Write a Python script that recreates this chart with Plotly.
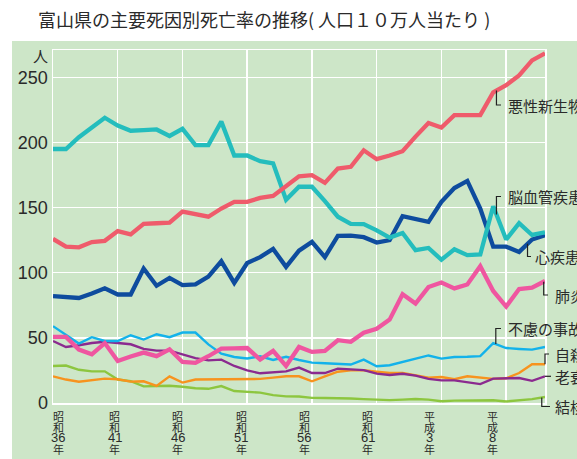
import numpy as np
import plotly.graph_objects as go

YEARS = list(range(1961, 2000))

cancer = [126, 120, 119.5, 123.5, 124.5, 132, 129.5, 137.5, 138, 138.5, 147, 145, 143, 149.3, 154.4, 154.4,
          157.5, 159, 166.5, 174, 174.9, 169, 180, 181.3, 194, 187.2, 190, 193.3, 204.5, 215, 211.5, 221,
          221, 221, 238.5, 244, 251.5, 263, 268.5]
stroke = [195, 195, 204, 211, 219, 213, 209, 209.5, 210, 205, 210.5, 198, 198, 216, 190, 190, 185.6, 184,
          156, 166, 166, 155, 143, 137.5, 137.3, 132.5, 127, 130.5, 117.3, 119, 110, 118, 113.5, 114, 151,
          125.5, 138, 129, 131]
heart = [82, 81.3, 80.6, 84, 88, 83.3, 83.3, 103.2, 90, 96, 90.5, 91, 97, 108.8, 92.2, 107.5, 112, 118.3,
         104.5, 117, 123.7, 112, 128.3, 128.5, 127.3, 123.2, 125, 143.4, 141, 139, 154.4, 165, 170.5, 149.3,
         120, 120, 116, 125.5, 128.8]
pneumonia = [50.7, 50.7, 41, 37.4, 46, 32.3, 35.7, 38.7, 36, 41.2, 31.5, 30.8, 35.9, 41.8, 42, 42.2, 33.3,
             40, 28.4, 43, 39.2, 40, 48.2, 47, 54, 57, 64, 83.5, 76.3, 89, 92.5, 88, 91, 105, 86, 74, 87.5,
             88.5, 93.7]
accident = [59, 52, 45.6, 50.5, 47.6, 47.6, 52, 48.7, 52.8, 50.5, 54.1, 54.1, 45, 37.9, 35.3, 34.2, 35.9,
            33, 35.5, 33, 31, 30.5, 30, 29.5, 33.3, 28.2, 29, 31.5, 34.5, 36.5, 34.1, 35.3, 35.5, 36, 46,
            42.2, 41.5, 41, 43]
senility = [47.6, 43, 44.3, 46.1, 47, 46.1, 45.1, 41.5, 40.2, 40.2, 37.2, 34.5, 32.7, 33.3, 28.4, 25, 22.8,
            23.8, 24.3, 27.2, 23, 23, 26.4, 25.8, 25.2, 22.5, 21.5, 22.5, 21, 18.5, 17.4, 17.4, 16, 14.5,
            18.7, 19, 19.2, 17, 20.5]
suicide = [20.5, 18, 16.3, 17.4, 18.7, 18.2, 16.4, 16.7, 13.1, 20.5, 15.7, 18, 18, 18, 18, 18, 18.5, 19.5,
           20.5, 20.5, 16.7, 20.5, 24, 25.1, 25.1, 24, 23, 23, 21, 19.5, 20, 18.2, 20.5, 19.5, 18.5, 19, 23,
           29.7, 29.7]
tuberculosis = [28.4, 28.8, 25.5, 24.3, 24.3, 18, 16.7, 12.8, 13, 13.3, 12.5, 11.3, 10.9, 13, 9.2, 8.7, 8,
                6, 5.1, 5, 3.9, 3.8, 3.8, 3.5, 3, 2.6, 2.2, 2.6, 3.1, 2.6, 1.3, 1.8, 2, 2.1, 2.1, 1.2, 2, 3,
                4.6]

NAMES = ["悪性新生物", "脳血管疾患", "心疾患", "肺炎", "不慮の事故", "自殺", "老衰", "結核"]
TICK_YEARS = [1961, 1966, 1971, 1976, 1981, 1986, 1991, 1996]
TICK_ERA = ["昭和", "昭和", "昭和", "昭和", "昭和", "昭和", "平成", "平成"]
TICK_NUM = ["36", "41", "46", "51", "56", "61", "3", "8"]
Y_TICKS = [0, 50, 100, 150, 200, 250]

BG = "#cde6c8"
TXT = "#2a2a2a"
JP = "Noto Sans CJK JP, sans-serif"
NUM = "Liberation Sans, Arial, sans-serif"

# figure geometry (px)
W, H = 577, 459
L, R, T, B = 53, 32, 50, 56
PW, PH = W - L - R, H - T - B
X0, X1 = 1961, 1999
Y0, Y1 = 0, 271

def px_x(px):
    return (px - L) / PW

def px_y(py):
    return (H - B - py) / PH

def data_px_y(v):
    return H - B - (v - Y0) / (Y1 - Y0) * PH

def data_px_x(yr):
    return L + (yr - X0) / (X1 - X0) * PW

series = [
    (tuberculosis, "#8dc63f", 2.4, NAMES[7]),
    (suicide, "#f7931e", 2.4, NAMES[5]),
    (senility, "#8b2a8f", 2.4, NAMES[6]),
    (accident, "#13b2ea", 2.4, NAMES[4]),
    (pneumonia, "#ef56a0", 4.3, NAMES[3]),
    (heart, "#0e4c9e", 4.3, NAMES[2]),
    (stroke, "#24bdbd", 4.3, NAMES[1]),
    (cancer, "#ef5b6b", 4.3, NAMES[0]),
]

fig = go.Figure()
for vals, col, w, name in series:
    fig.add_trace(go.Scatter(x=YEARS, y=vals, mode="lines", name=name,
                             line=dict(color=col, width=w), hoverinfo="skip"))

shapes = [dict(type="rect", xref="paper", yref="paper", x0=px_x(12), x1=px_x(W + 5),
               y0=px_y(H + 5), y1=px_y(41), fillcolor=BG, line=dict(width=0), layer="below")]
annotations = []

annotations.append(dict(text="富山県の主要死因別死亡率の推移( 人口１０万人当たり )", xref="paper", yref="paper",
                        x=px_x(264), y=px_y(19), xanchor="center", yanchor="middle", showarrow=False,
                        font=dict(family=JP, size=18, color=TXT)))
annotations.append(dict(text="人", xref="paper", yref="paper", x=px_x(40), y=px_y(56),
                        xanchor="center", yanchor="middle", showarrow=False,
                        font=dict(family=JP, size=15, color=TXT)))

xshifts = [5, -3, -4.6, -6, -7.5, -9, -12, -13.6]
for i, (yr, era, num) in enumerate(zip(TICK_YEARS, TICK_ERA, TICK_NUM)):
    xp = px_x(data_px_x(yr) + xshifts[i])
    parts = [(era[0], 416, JP, 11), (era[1], 426.5, JP, 11), (num, 437.5, NUM, 13), ("年", 448.5, JP, 11)]
    for txt, py, fam, sz in parts:
        annotations.append(dict(text=txt, xref="paper", yref="paper", x=xp, y=px_y(py),
                                xanchor="center", yanchor="middle", showarrow=False,
                                font=dict(family=fam, size=sz, color=TXT)))

leaders = [
    (cancer, 1995.25, 105, 501, 506, NAMES[0]),
    (stroke, 1995.25, 196.5, 501, 506, NAMES[1]),
    (heart, 1997.65, 256.5, 531, 533, NAMES[2]),
    (pneumonia, 1998.9, 295, 548, 553, NAMES[3]),
    (accident, 1995.2, 328.5, 501, 506, NAMES[4]),
    (suicide, 1999.0, 354, 549, 553, NAMES[5]),
    (senility, 1999.0, None, 551, 553, NAMES[6]),
    (tuberculosis, 1998.75, 406.5, 550, 553, NAMES[7]),
]
for vals, yr, vend, hend, tx, name in leaders:
    ax = data_px_x(yr)
    ay = data_px_y(float(np.interp(yr, YEARS, vals)))
    if vend is None:
        path = f"M {px_x(ax)},{px_y(ay)} L {px_x(hend)},{px_y(ay)}"
        ty = ay
    else:
        path = (f"M {px_x(ax)},{px_y(ay)} L {px_x(ax)},{px_y(vend)} "
                f"L {px_x(hend)},{px_y(vend)}")
        ty = vend
    shapes.append(dict(type="path", xref="paper", yref="paper", path=path,
                       line=dict(color="#222222", width=1.2)))
    annotations.append(dict(text=name, xref="paper", yref="paper", x=px_x(tx), y=px_y(ty),
                            xanchor="left", yanchor="middle", showarrow=False,
                            font=dict(family=JP, size=15, color=TXT)))

fig.update_layout(
    width=W, height=H,
    margin=dict(l=L, r=R, t=T, b=B, pad=0),
    paper_bgcolor="white", plot_bgcolor=BG,
    showlegend=False,
    shapes=shapes, annotations=annotations,
    xaxis=dict(range=[X0, X1], tick0=1961, dtick=5, showgrid=True, gridcolor="white", gridwidth=1.5,
               showticklabels=False, ticks="", zeroline=False, showline=True, linecolor="white",
               linewidth=1.5, mirror=True),
    yaxis=dict(range=[Y0, Y1], tickvals=Y_TICKS, showgrid=True, gridcolor="white", gridwidth=1.5,
               ticks="", zeroline=False, showline=True,
               linecolor="white", linewidth=1.5, mirror=True,
               tickfont=dict(family=NUM, size=18, color=TXT)),
)

fig.write_html("out.html", config={"displayModeBar": False, "staticPlot": True},
               post_script="document.body.style.margin='0';document.body.style.overflow='hidden';")
